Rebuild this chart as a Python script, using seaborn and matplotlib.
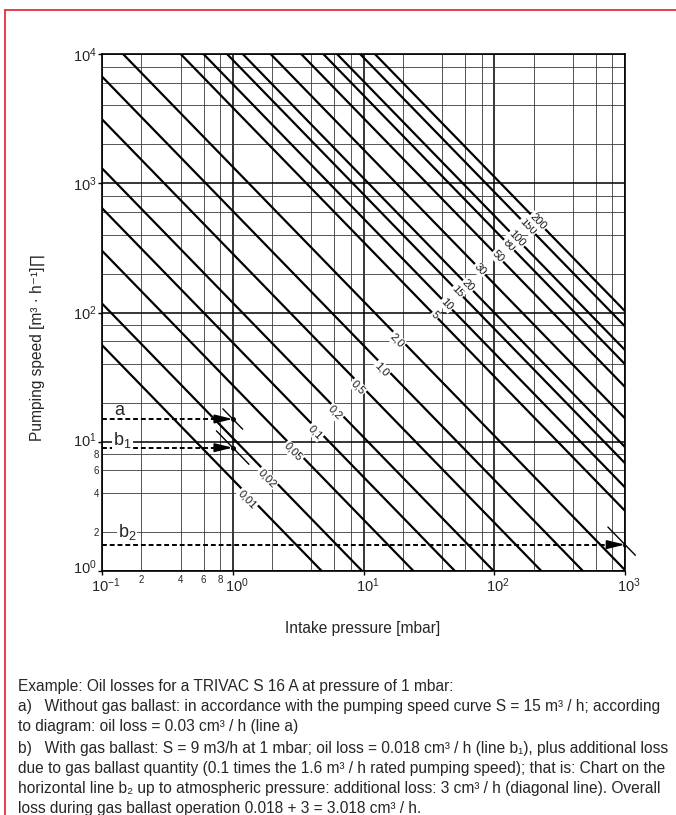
import numpy as np
import pandas as pd
import matplotlib
matplotlib.use("Agg")
import matplotlib.pyplot as plt
import seaborn as sns
from matplotlib.lines import Line2D
from matplotlib.transforms import ScaledTranslation
from matplotlib.ticker import LogLocator, FuncFormatter

# oil loss per line [cm3/h] and the label printed on it
loss_labels = ["0,01", "0,02", "0,05", "0,1", "0,2", "0,5", "1,0", "2,0",
               "5", "10", "15", "20", "30", "50", "80", "100", "150", "200"]
# pumping speed where each line crosses 1 mbar [m3/h]
speed_at_1mbar = [5.1, 10.7, 27.4, 58.5, 119, 285, 610, 1340,
                  3850, 5850, 9000, 12000, 20000, 35000, 52500, 67500, 103000, 135000]
# the printed lines fall slightly steeper than 1 decade per decade
line_exponent = 1.04
# pressure [mbar] at which the label sits on each line
label_pressure = [1.29, 1.83, 2.89, 4.26, 6.05, 9.07, 13.8, 18.0,
                  35.2, 43.5, 52.8, 63, 77.8, 107, 130, 149, 181, 216]

# worked example: pumping speed and end pressure of the dashed lines
example_names = ["a", "b$_1$", "b$_2$"]
example_speed = [15, 9, 1.6]
example_pressure = [1, 1, 1000]

p_range = [0.1, 1000]

text_font = ["Liberation Sans", "DejaVu Sans"]
text_size = 11.2

sns.set_theme(style="white")
plt.rcParams["font.family"] = ["Liberation Sans", "DejaVu Sans"]
plt.rcParams["mathtext.fontset"] = "custom"
plt.rcParams["mathtext.rm"] = "Liberation Sans"
plt.rcParams["mathtext.it"] = "Liberation Sans"

fig = plt.figure(figsize=(6.76, 8.15), dpi=100)
W, H = 676, 815
ax = fig.add_axes([102 / W, 1 - 571 / H, 523 / W, 517 / H])
k = line_exponent

# diagonal lines
rows = []
for lab, s1 in zip(loss_labels, speed_at_1mbar):
    for p in p_range:
        rows.append({"loss": lab, "p": p, "S": s1 * p ** -k})
df = pd.DataFrame(rows)
sns.lineplot(data=df, x="p", y="S", units="loss", estimator=None,
             color="black", lw=1.6, ax=ax, legend=False)

ax.set_xscale("log")
ax.set_yscale("log")
ax.set_xlim(0.1, 1000)
ax.set_ylim(1, 1e4)

ax.xaxis.set_major_locator(LogLocator(base=10, numticks=10))
ax.yaxis.set_major_locator(LogLocator(base=10, numticks=10))
ax.xaxis.set_minor_locator(LogLocator(base=10, subs=(2, 4, 6, 8), numticks=10))
ax.yaxis.set_minor_locator(LogLocator(base=10, subs=(2, 4, 6, 8), numticks=10))


def minor_fmt(lo, hi):
    def f(v, pos):
        if lo < v < hi:
            return "%d" % round(v / lo)
        return ""
    return FuncFormatter(f)


ax.xaxis.set_minor_formatter(minor_fmt(0.1, 1))
ax.yaxis.set_minor_formatter(minor_fmt(1, 10))

ax.grid(which="major", color="black", lw=1.1)
ax.grid(which="minor", color="#3a3a3a", lw=0.6)
ax.set_axisbelow(True)
for sp in ax.spines.values():
    sp.set_color("black")
    sp.set_linewidth(1.2)

ax.tick_params(which="major", direction="out", length=3, width=1, color="black",
               labelsize=10.5, pad=1, bottom=True, left=True)
ax.tick_params(which="minor", length=0, labelsize=7, pad=2)
ax.tick_params(axis="x", which="minor", pad=3)

ax.set_xlabel("")
ax.set_ylabel("")

# nudge the decade labels like the printed chart
fig.canvas.draw()
for t in ax.get_xticklabels():
    t.set_transform(t.get_transform() + ScaledTranslation(4 / 100, 0, fig.dpi_scale_trans))
raise_px = {1: 5, 10: 3}
for t in ax.get_yticklabels():
    v = t.get_position()[1]
    if v in raise_px:
        t.set_transform(t.get_transform() +
                        ScaledTranslation(0, raise_px[v] / 100, fig.dpi_scale_trans))

# labels on the lines (the small-loss labels sit a little under their line)
ang = -np.degrees(np.arctan(k * 129.25 / 130.75))
for i, (lab, s1, pl) in enumerate(zip(loss_labels, speed_at_1mbar, label_pressure)):
    dy = -3.5 if i < 8 else 0
    ax.annotate(lab, xy=(pl, s1 * pl ** -k), xytext=(0, dy), textcoords="offset points",
                rotation=ang, rotation_mode="anchor", ha="center", va="center",
                fontsize=8, color="#1a1a1a",
                bbox=dict(boxstyle="square,pad=0.1", fc="white", ec="none"))

# worked example arrows
for nm, s, pe in zip(example_names, example_speed, example_pressure):
    ax.plot([0.1, pe * 0.8], [s, s], color="black", lw=1.4,
            ls=(0, (2.5, 1.5)), clip_on=False)
    ax.annotate("", xy=(pe, s), xytext=(pe * 0.8, s),
                arrowprops=dict(arrowstyle="-|>,head_length=0.9,head_width=0.22",
                                color="black", lw=1.2, shrinkA=0, shrinkB=0))
    ax.plot([pe], [s], "o", color="black", ms=2.5)

# short diagonal ticks through the example points
ticks = [(0.84, 1.19), (0.75, 1.33), (740, 1200)]
for (a0, a1), s, pe in zip(ticks, example_speed, example_pressure):
    ax.plot([a0, a1], [s * (pe / a0) ** k, s * (pe / a1) ** k],
            color="black", lw=1.0, clip_on=False)

ax.text(0.135, 17.5, "a", fontsize=13, ha="center", va="center")
ax.text(0.143, 10.3, "b$_1$", fontsize=13, ha="center", va="center",
        bbox=dict(boxstyle="square,pad=0.05", fc="white", ec="none"))
ax.text(0.155, 2.0, "b$_2$", fontsize=13, ha="center", va="center",
        bbox=dict(boxstyle="square,pad=0.05", fc="white", ec="none"))

# axis titles
fig.text(363 / W, 1 - 629 / H, "Intake pressure [mbar]", family=text_font,
         fontsize=text_size, ha="center", va="center")
fig.text(37 / W, 1 - 347 / H, "Pumping speed [m³ · h⁻¹]∏", family=text_font,
         fontsize=text_size, ha="center", va="center", rotation=90)

lines = [
    "Example: Oil losses for a TRIVAC S 16 A at pressure of 1 mbar:",
    "a)   Without gas ballast: in accordance with the pumping speed curve S = 15 m³ / h; according",
    "to diagram: oil loss = 0.03 cm³ / h (line a)",
    "b)   With gas ballast: S = 9 m3/h at 1 mbar; oil loss = 0.018 cm³ / h (line b₁), plus additional loss",
    "due to gas ballast quantity (0.1 times the 1.6 m³ / h rated pumping speed); that is: Chart on the",
    "horizontal line b₂ up to atmospheric pressure: additional loss: 3 cm³ / h (diagonal line). Overall",
    "loss during gas ballast operation 0.018 + 3 = 3.018 cm³ / h.",
]
ys = [686, 706, 727, 748, 768, 789, 809]
for t, y in zip(lines, ys):
    fig.text(18 / W, 1 - y / H, t, family=text_font, fontsize=text_size,
             ha="left", va="center")

# red frame edge (top and left)
fig.add_artist(Line2D([5 / W, 1], [1 - 10 / H, 1 - 10 / H], color="#e0303a", lw=1.3,
                      transform=fig.transFigure))
fig.add_artist(Line2D([5 / W, 5 / W], [0, 1 - 10 / H], color="#e0303a", lw=1.3,
                      transform=fig.transFigure))

fig.savefig("out.png", dpi=100)
